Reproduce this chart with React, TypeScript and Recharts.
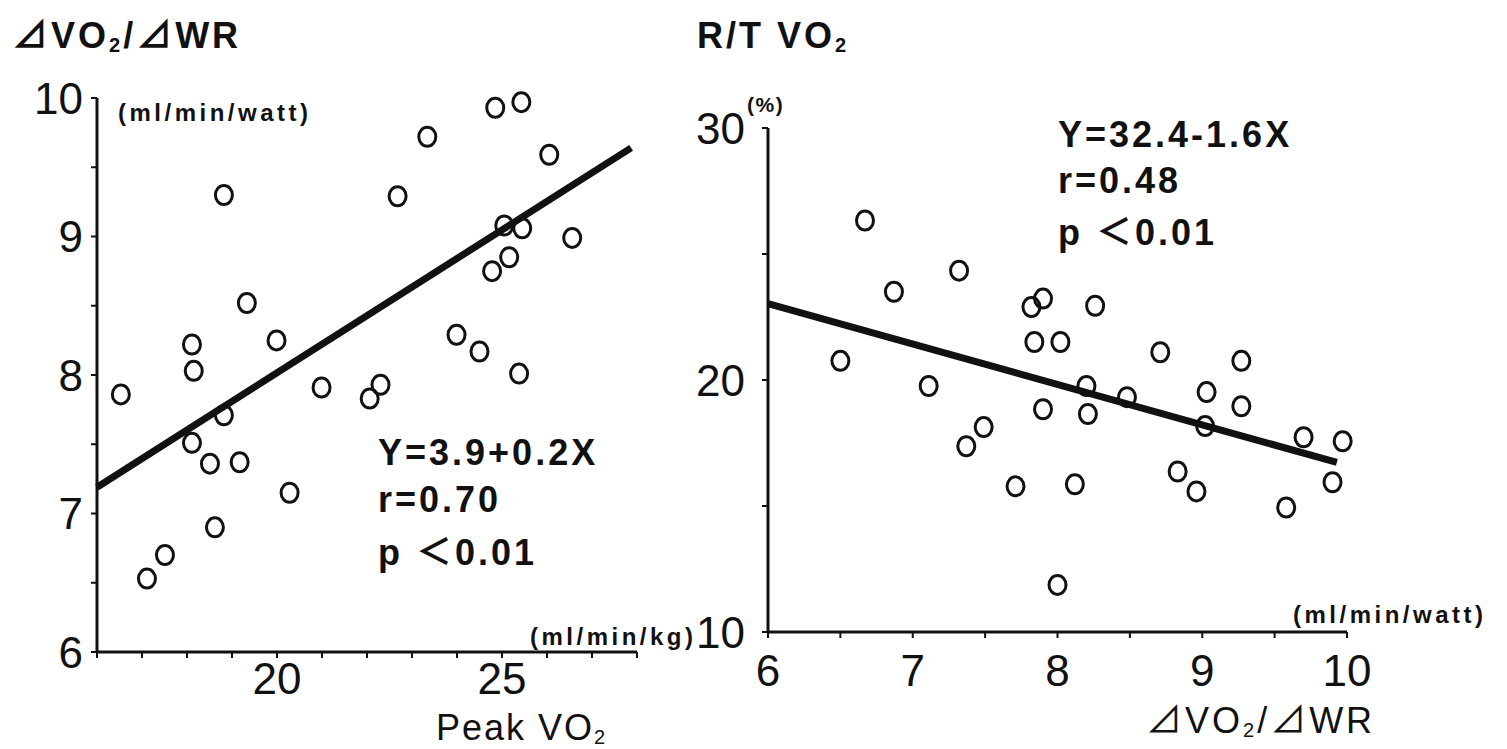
import React from "react";
import { ScatterChart, Scatter, XAxis, YAxis, ReferenceLine } from "recharts";

// left panel: peak VO2 (x) vs dVO2/dWR (y)
const peakVO2 = [
  16.53, 18.11, 18.15, 19.33, 19.99, 20.99, 22.06, 22.3, 18.82, 18.11,
  18.51, 19.17, 20.28, 18.62, 17.51, 17.11, 18.82, 22.68, 23.34, 24.85,
  25.43, 26.05, 26.56, 25.05, 25.45, 25.16, 24.78, 23.99, 24.5, 25.38,
];
const slopeLeft = [
  7.86, 8.22, 8.03, 8.52, 8.25, 7.91, 7.83, 7.93, 7.71, 7.51,
  7.36, 7.37, 7.15, 6.9, 6.7, 6.53, 9.3, 9.29, 9.72, 9.93,
  9.97, 9.59, 8.99, 9.08, 9.06, 8.85, 8.75, 8.29, 8.17, 8.01,
];
const leftFitX = [16, 27.87];
const leftFitY = [7.19, 9.64];
const leftXTicks = [16, 17, 18, 19, 20, 21, 22, 23, 24, 25, 26, 27, 28];
const leftXLabels = [20, 25];
const leftYTicks = [6, 6.5, 7, 7.5, 8, 8.5, 9, 9.5, 10];

// right panel: dVO2/dWR (x) vs R/T VO2 (y)
const slopeRight = [
  6.67, 6.87, 7.32, 7.82, 7.9, 8.26, 6.5, 7.11, 7.84, 8.02,
  8.2, 7.9, 8.21, 7.49, 7.37, 7.71, 8.12, 8.0, 8.48, 8.71,
  9.27, 9.03, 9.27, 9.02, 8.83, 8.96, 9.7, 9.97, 9.9, 9.58,
];
const rtVO2 = [
  26.33, 23.5, 24.34, 22.9, 23.23, 22.95, 20.76, 19.76, 21.51, 21.51,
  19.76, 18.84, 18.65, 18.13, 17.37, 15.78, 15.86, 11.87, 19.32, 21.1,
  20.76, 19.52, 18.96, 18.17, 16.37, 15.58, 17.73, 17.57, 15.94, 14.94,
];
const rightFitX = [6, 9.93];
const rightFitY = [23.03, 16.73];
const rightXTicks = [6, 6.5, 7, 7.5, 8, 8.5, 9, 9.5, 10];
const rightYTicks = [10, 15, 20, 25, 30];
const rightYLabels = [10, 20, 30];

const leftData = peakVO2.map((x, i) => ({ x, y: slopeLeft[i] }));
const rightData = slopeRight.map((x, i) => ({ x, y: rtVO2[i] }));

const INK = "#111";
const FONT = "'Liberation Sans', Arial, 'Noto Sans CJK JP', sans-serif";

const Ring = (p: any) => (
  <ellipse cx={p.cx} cy={p.cy} rx={8.5} ry={9.5} fill="none" stroke={INK} strokeWidth={3} />
);

const tickStyle = { fill: INK, fontSize: 44, fontFamily: FONT };
const axisLine = { stroke: INK, strokeWidth: 3 };
const tickLine = { stroke: INK, strokeWidth: 2 };

export default function App() {
  return (
    <div style={{ position: "absolute", left: 0, top: 0, width: 1507, height: 749, background: "#fff", overflow: "hidden" }}>
      <div style={{ position: "absolute", left: 0, top: 0 }}>
        <ScatterChart width={700} height={749} margin={{ top: 98, right: 63, bottom: 37, left: 0 }}>
          <XAxis
            type="number" dataKey="x" domain={[16, 28]} ticks={leftXTicks} interval={0}
            tickFormatter={(v: number) => (leftXLabels.includes(v) ? String(v) : "")}
            tick={tickStyle} axisLine={axisLine} tickLine={tickLine} tickSize={6} tickMargin={5} height={60}
          />
          <YAxis
            type="number" dataKey="y" domain={[6, 10]} ticks={leftYTicks} interval={0}
            tickFormatter={(v: number) => (Number.isInteger(v) ? String(v) : "")}
            tick={tickStyle} axisLine={axisLine} tickLine={tickLine} tickSize={6} tickMargin={8} width={97}
          />
          <Scatter data={leftData} shape={Ring} isAnimationActive={false} />
          <ReferenceLine
            segment={[{ x: leftFitX[0], y: leftFitY[0] }, { x: leftFitX[1], y: leftFitY[1] }]}
            stroke={INK} strokeWidth={7}
          />
        </ScatterChart>
      </div>
      <div style={{ position: "absolute", left: 680, top: 0 }}>
        <ScatterChart width={827} height={749} margin={{ top: 128, right: 160, bottom: 57, left: 0 }}>
          <XAxis
            type="number" dataKey="x" domain={[6, 10]} ticks={rightXTicks} interval={0}
            tickFormatter={(v: number) => (Number.isInteger(v) ? String(v) : "")}
            tick={tickStyle} axisLine={axisLine} tickLine={tickLine} tickSize={6} tickMargin={17} height={60}
          />
          <YAxis
            type="number" dataKey="y" domain={[10, 30]} ticks={rightYTicks} interval={0}
            tickFormatter={(v: number) => (rightYLabels.includes(v) ? String(v) : "")}
            tick={tickStyle} axisLine={axisLine} tickLine={tickLine} tickSize={6} tickMargin={17} width={88}
          />
          <Scatter data={rightData} shape={Ring} isAnimationActive={false} />
          <ReferenceLine
            segment={[{ x: rightFitX[0], y: rightFitY[0] }, { x: rightFitX[1], y: rightFitY[1] }]}
            stroke={INK} strokeWidth={7}
          />
        </ScatterChart>
      </div>

      {/* titles, units and regression notes */}
      <svg width={1507} height={749} style={{ position: "absolute", left: 0, top: 0, pointerEvents: "none" }}>
        <g fill={INK} fontFamily={FONT}>
          <text x={12} y={48} fontSize={36} fontWeight="bold" letterSpacing={3}>
            ⊿VO<tspan fontSize={20} dy={4}>2</tspan><tspan dy={-4}>/⊿WR</tspan>
          </text>
          <text x={118} y={121} fontSize={24} fontWeight="bold" letterSpacing={3.5}>(ml/min/watt)</text>
          <text x={530} y={645} fontSize={24} fontWeight="bold" letterSpacing={3.5}>(ml/min/kg)</text>
          <text x={436} y={740} fontSize={36} letterSpacing={2}>
            Peak VO<tspan fontSize={20} dy={4}>2</tspan>
          </text>
          <g fontSize={36} fontWeight="bold" letterSpacing={3}>
            <text x={378} y={465}>Y=3.9+0.2X</text>
            <text x={378} y={512}>r=0.70</text>
            <text x={378} y={565}>p ＜0.01</text>
          </g>

          <text x={697} y={48} fontSize={36} fontWeight="bold" letterSpacing={3}>
            R/T VO<tspan fontSize={20} dy={4}>2</tspan>
          </text>
          <text x={747} y={112} fontSize={21} fontWeight="bold" letterSpacing={1.5}>(%)</text>
          <g fontSize={36} fontWeight="bold" letterSpacing={3}>
            <text x={1058} y={147}>Y=32.4-1.6X</text>
            <text x={1058} y={193}>r=0.48</text>
            <text x={1058} y={245}>p ＜0.01</text>
          </g>
          <text x={1293} y={623} fontSize={24} fontWeight="bold" letterSpacing={3.5}>(ml/min/watt)</text>
          <text x={1146} y={733} fontSize={36} letterSpacing={3}>
            ⊿VO<tspan fontSize={20} dy={4}>2</tspan><tspan dy={-4}>/⊿WR</tspan>
          </text>
        </g>
      </svg>
    </div>
  );
}
